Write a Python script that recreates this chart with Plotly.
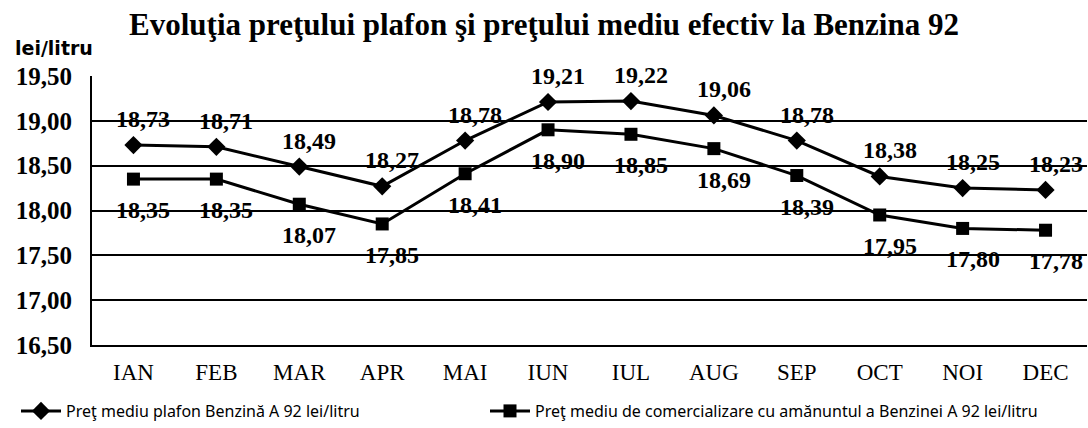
import plotly.graph_objects as go

months = ["IAN", "FEB", "MAR", "APR", "MAI", "IUN", "IUL", "AUG", "SEP", "OCT", "NOI", "DEC"]
pret_plafon = [18.73, 18.71, 18.49, 18.27, 18.78, 19.21, 19.22, 19.06, 18.78, 18.38, 18.25, 18.23]
pret_mediu = [18.35, 18.35, 18.07, 17.85, 18.41, 18.90, 18.85, 18.69, 18.39, 17.95, 17.80, 17.78]
y_ticks = [16.5, 17.0, 17.5, 18.0, 18.5, 19.0, 19.5]

name_plafon = "Preţ mediu plafon Benzină A 92 lei/litru"
name_mediu = "Preţ mediu de comercializare cu amănuntul a Benzinei A 92 lei/litru"

serif = "Liberation Serif"


def fmt(v):
    return f"{v:.2f}".replace(".", ",")


fig = go.Figure()
fig.add_trace(go.Scatter(
    x=months, y=pret_plafon, mode="lines+markers", name=name_plafon,
    line=dict(color="black", width=3),
    marker=dict(symbol="diamond", size=14, color="black"),
    legend="legend",
))
fig.add_trace(go.Scatter(
    x=months, y=pret_mediu, mode="lines+markers", name=name_mediu,
    line=dict(color="black", width=3),
    marker=dict(symbol="square", size=13, color="black"),
    legend="legend2",
))

annotations = []
for m, v in zip(months, pret_plafon):
    annotations.append(dict(x=m, y=v, xref="x", yref="y", text="<b>" + fmt(v) + "</b>", showarrow=False,
                            xshift=10, yshift=26, font=dict(family=serif, size=24, color="black")))
for m, v in zip(months, pret_mediu):
    annotations.append(dict(x=m, y=v, xref="x", yref="y", text="<b>" + fmt(v) + "</b>", showarrow=False,
                            xshift=10, yshift=-31, font=dict(family=serif, size=24, color="black")))
annotations.append(dict(x=(13 - 92) / 995, y=(345 - 48) / 269, xref="paper", yref="paper",
                        text="<b>lei/litru</b>", showarrow=False, xanchor="left", yanchor="middle",
                        font=dict(family="DejaVu Sans", size=19, color="black")))

legend_font = dict(family="Noto Sans", size=16, color="black")
fig.update_layout(
    width=1088, height=428,
    margin=dict(l=92, r=1, t=76, b=83),
    paper_bgcolor="white", plot_bgcolor="white",
    title=dict(text="<b>Evoluţia preţului plafon şi preţului mediu efectiv la Benzina 92</b>",
               x=0.5, xanchor="center", y=1 - 24 / 428, yanchor="middle", yref="container",
               font=dict(family=serif, size=31, color="black")),
    xaxis=dict(range=[-0.5, 11.5], showgrid=False, showline=True, linecolor="black", linewidth=2,
               ticks="", tickfont=dict(family=serif, size=23, color="black"), ticklabelstandoff=5,
               automargin=False),
    yaxis=dict(range=[16.5, 19.5], tickvals=y_ticks, ticktext=["<b>" + fmt(t) + "</b>" for t in y_ticks],
               showgrid=True, gridcolor="black", gridwidth=1.5, showline=True, linecolor="black",
               linewidth=2, zeroline=False, ticks="", ticklabelstandoff=13, automargin=False,
               tickfont=dict(family=serif, size=25, color="black")),
    showlegend=True,
    legend=dict(orientation="h", xref="container", yref="container", x=16 / 1088, xanchor="left",
                y=1 - 411 / 428, yanchor="middle", font=legend_font, itemwidth=40),
    legend2=dict(orientation="h", xref="container", yref="container", x=485 / 1088, xanchor="left",
                 y=1 - 411 / 428, yanchor="middle", font=legend_font, itemwidth=40),
    annotations=annotations,
)
fig.write_html("out.html", config={"displayModeBar": False},
               post_script="document.body.style.margin='0';")
